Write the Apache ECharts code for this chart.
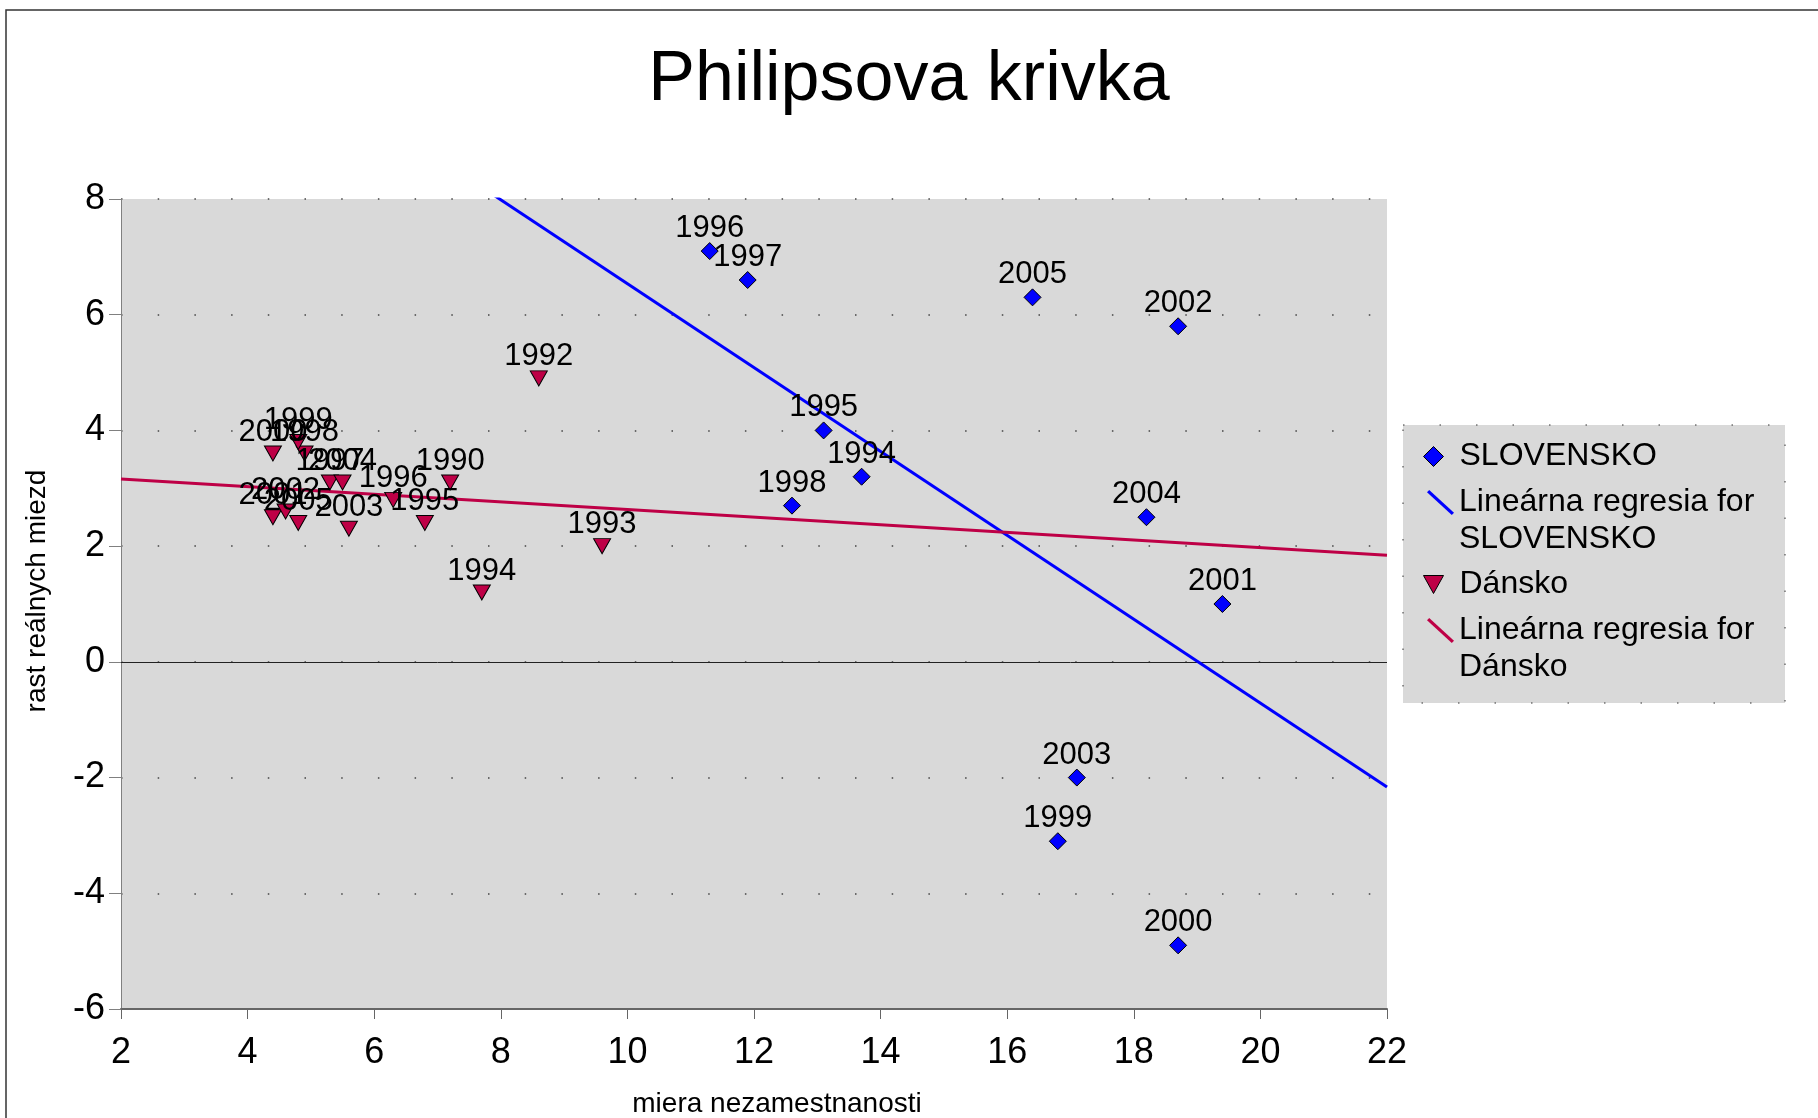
<!DOCTYPE html>
<html>
<head>
<meta charset="utf-8">
<script src="https://cdn.jsdelivr.net/npm/echarts@6/dist/echarts.min.js"></script>
<style>
  html, body { margin: 0; padding: 0; background: #fff; }
  #chart { width: 1818px; height: 1118px; }
</style>
</head>
<body>
<div id="chart"></div>
<script>
  // Slovensko
  const SK_YEARS = [1994, 1995, 1996, 1997, 1998, 1999, 2000, 2001, 2002, 2003, 2004, 2005]
  const SK_UNEMP = [13.7, 13.1, 11.3, 11.9, 12.6, 16.8, 18.7, 19.4, 18.7, 17.1, 18.2, 16.4]
  const SK_WAGE = [3.2, 4.0, 7.1, 6.6, 2.7, -3.1, -4.9, 1.0, 5.8, -2.0, 2.5, 6.3]

  // Dánsko
  const DK_YEARS = [1990, 1992, 1993, 1994, 1995, 1996, 1997, 1998, 1999, 2000, 2001, 2002, 2003, 2004, 2005]
  const DK_UNEMP = [7.2, 8.6, 9.6, 7.7, 6.8, 6.3, 5.3, 4.9, 4.8, 4.4, 4.4, 4.6, 5.6, 5.5, 4.8]
  const DK_WAGE = [3.1, 4.9, 2.0, 1.2, 2.4, 2.8, 3.1, 3.6, 3.8, 3.6, 2.5, 2.6, 2.3, 3.1, 2.4]

  const X_TICKS = [2, 22, 2]   // min, max, step
  const Y_TICKS = [-6, 8, 2]

  const SK_NAME = 'SLOVENSKO'
  const DK_NAME = 'Dánsko'
  const SK_REG = 'Lineárna regresia for SLOVENSKO'
  const DK_REG = 'Lineárna regresia for Dánsko'

  const BLUE = '#0000FF'
  const RED = '#BE0046'
  const FONT = 'Liberation Sans, Arial, sans-serif'

  // least squares line, evaluated at both ends of the x axis
  function regression (xs, ys) {
    const n = xs.length
    const mx = xs.reduce((s, v) => s + v, 0) / n
    const my = ys.reduce((s, v) => s + v, 0) / n
    let sxy = 0
    let sxx = 0
    for (let i = 0; i < n; i++) {
      sxy += (xs[i] - mx) * (ys[i] - my)
      sxx += (xs[i] - mx) * (xs[i] - mx)
    }
    const b = sxy / sxx
    const a = my - b * mx
    return [X_TICKS[0], X_TICKS[1]].map(x => [x, a + b * x])
  }

  const points = (xs, ys, years) => xs.map((x, i) => [x, ys[i], years[i]])

  const TRI = 'path://M0,0L20,0L10,18Z'
  const SLASH = 'path://M0,2.2L2.2,0L27,22.8L24.8,25Z'

  const pointLabel = {
    show: true,
    position: 'top',
    distance: -2,
    color: '#000',
    fontSize: 31,
    fontFamily: FONT,
    formatter: p => p.data[2]
  }

  function legendItem (name, top, icon, color, w, h, padLeft, twoLines) {
    const framed = icon === 'diamond' || icon === TRI
    return {
      show: true,
      orient: 'vertical',
      left: 1459 - 5 - w - padLeft,
      top: top,
      padding: 0,
      itemWidth: w,
      itemHeight: h,
      selectedMode: false,
      data: [{
        name: name,
        icon: icon,
        itemStyle: { color: color, borderColor: framed ? '#000' : color, borderWidth: framed ? 1 : 0 }
      }],
      // blank first line keeps the icon level with the first text line
      formatter: n => twoLines ? '\n' + n.replace('for ', 'for\n') : n,
      textStyle: {
        color: '#000',
        fontSize: 32,
        lineHeight: 37,
        fontFamily: FONT,
        padding: [0, 0, 0, padLeft]
      }
    }
  }

  const chart = echarts.init(document.getElementById('chart'))
  chart.setOption({
    backgroundColor: '#fff',
    animation: false,
    title: {
      text: 'Philipsova krivka',
      left: 'center',
      top: 41,
      textStyle: { color: '#000', fontSize: 70, fontWeight: 'normal', fontFamily: FONT }
    },
    graphic: [
      {
        type: 'rect',
        shape: { x: 6, y: 10, width: 1840, height: 1140 },
        style: { fill: 'none', stroke: '#333', lineWidth: 1.5 },
        silent: true,
        z: -10
      },
      {
        type: 'rect',
        shape: { x: 1403, y: 425, width: 382, height: 278 },
        style: { fill: '#D9D9D9', stroke: '#333', lineWidth: 1, lineDash: [1.5, 35] },
        silent: true,
        z: -5
      }
    ],
    legend: [
      legendItem(SK_NAME, 438, 'diamond', BLUE, 20, 20, 11, false),
      legendItem(SK_REG, 447, SLASH, BLUE, 27, 25, 0, true),
      legendItem(DK_NAME, 566, TRI, RED, 20, 18, 11, false),
      legendItem(DK_REG, 575, SLASH, RED, 27, 25, 0, true)
    ],
    grid: {
      left: 121,
      top: 199,
      width: 1266,
      height: 810,
      outerBoundsMode: 'none',
      show: true,
      backgroundColor: '#D9D9D9',
      borderWidth: 0
    },
    xAxis: {
      type: 'value',
      min: X_TICKS[0],
      max: X_TICKS[1],
      interval: X_TICKS[2],
      name: 'miera nezamestnanosti',
      nameLocation: 'middle',
      nameGap: 81,
      nameTextStyle: { color: '#000', fontSize: 28, fontFamily: FONT, padding: [0, 0, 0, 46] },
      axisLine: { show: true, onZero: false, lineStyle: { color: '#666', width: 2 } },
      axisTick: { show: true, inside: false, length: 10, lineStyle: { color: '#666' } },
      axisLabel: { color: '#000', fontSize: 36, fontFamily: FONT, margin: 26 },
      splitLine: { show: false }
    },
    yAxis: {
      type: 'value',
      min: Y_TICKS[0],
      max: Y_TICKS[1],
      interval: Y_TICKS[2],
      name: 'rast reálnych miezd',
      nameLocation: 'middle',
      nameGap: 70,
      nameRotate: 90,
      nameTextStyle: { color: '#000', fontSize: 28, fontFamily: FONT, padding: [0, 0, 0, 26] },
      axisLine: { show: true, onZero: false, lineStyle: { color: '#808080', width: 1 } },
      axisTick: { show: true, inside: false, length: 12, lineStyle: { color: '#808080' } },
      axisLabel: { color: '#000', fontSize: 36, fontFamily: FONT, margin: 16 },
      splitLine: { show: true, lineStyle: { color: '#444', width: 1.5, type: [1.5, 35.2] } }
    },
    series: [
      {
        name: SK_NAME,
        type: 'scatter',
        symbol: 'diamond',
        symbolSize: 17,
        color: BLUE,
        itemStyle: { color: BLUE, borderColor: '#000', borderWidth: 1, opacity: 1 },
        label: pointLabel,
        data: points(SK_UNEMP, SK_WAGE, SK_YEARS),
        z: 5,
        markLine: {
          silent: true,
          symbol: 'none',
          label: { show: false },
          lineStyle: { color: '#222', type: 'solid', width: 1 },
          data: [{ yAxis: 0 }],
          z: 1
        }
      },
      {
        name: SK_REG,
        type: 'line',
        color: BLUE,
        symbol: 'none',
        clip: true,
        lineStyle: { color: BLUE, width: 3 },
        data: regression(SK_UNEMP, SK_WAGE),
        z: 3
      },
      {
        name: DK_NAME,
        type: 'scatter',
        symbol: TRI,
        symbolSize: [17, 15],
        color: RED,
        itemStyle: { color: RED, borderColor: '#000', borderWidth: 1, opacity: 1 },
        label: pointLabel,
        data: points(DK_UNEMP, DK_WAGE, DK_YEARS),
        z: 5
      },
      {
        name: DK_REG,
        type: 'line',
        color: RED,
        symbol: 'none',
        clip: true,
        lineStyle: { color: RED, width: 3 },
        data: regression(DK_UNEMP, DK_WAGE),
        z: 3
      }
    ]
  })
</script>
</body>
</html>
